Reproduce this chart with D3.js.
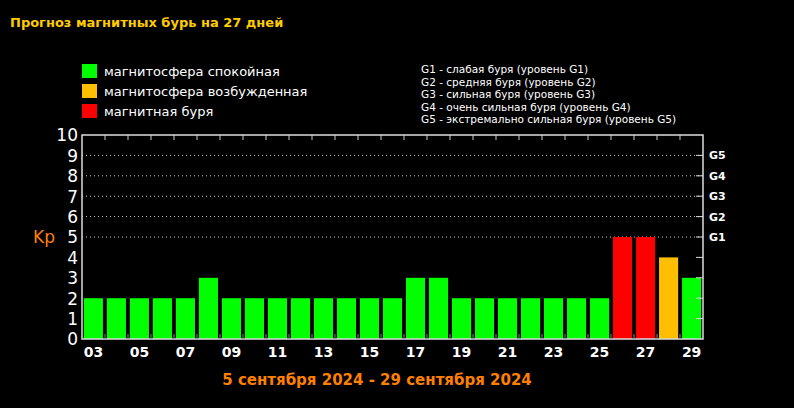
<!DOCTYPE html><html><head><meta charset="utf-8"><script src="https://cdn.jsdelivr.net/npm/d3@7"></script>
<style>body{margin:0;background:#000}</style></head><body><svg id="c" width="794" height="408"></svg>
<script>
const days=["03","04","05","06","07","08","09","10","11","12","13","14","15","16","17","18","19","20","21","22","23","24","25","26","27","28","29"];
const kp=[2,2,2,2,2,3,2,2,2,2,2,2,2,2,3,3,2,2,2,2,2,2,2,5,5,4,3];
const levels=["G1","G2","G3","G4","G5"];
const legendItems=[["магнитосфера спокойная","#00ff00"],["магнитосфера возбужденная","#ffbf00"],["магнитная буря","#ff0000"]];
const gNotes=["G1 - слабая буря (уровень G1)","G2 - средняя буря (уровень G2)","G3 - сильная буря (уровень G3)","G4 - очень сильная буря (уровень G4)","G5 - экстремально сильная буря (уровень G5)"];
const svg=d3.select("#c");
svg.append("text").attr("x",10).attr("y",27).attr("fill","#ffcc00").attr("font-family","DejaVu Sans").attr("font-weight","bold").attr("font-size",13).text("Прогноз магнитных бурь на 27 дней");
legendItems.forEach((d,i)=>{svg.append("rect").attr("x",82).attr("y",64+i*20).attr("width",15).attr("height",14).attr("fill",d[1]);
svg.append("text").attr("x",104).attr("y",76+i*20).attr("fill","#fff").attr("font-family","DejaVu Sans").attr("font-size",13).text(d[0]);});
gNotes.forEach((t,i)=>svg.append("text").attr("x",421).attr("y",73+i*12.5).attr("fill","#fff").attr("font-family","DejaVu Sans").attr("font-size",10.5).text(t));
const L=82,R=703,T=135,B=339;
const x=d3.scaleBand().domain(days).range([L,R]).paddingInner(0.17).paddingOuter(0.08);
const y=d3.scaleLinear().domain([0,10]).range([B,T]);
const col=v=>v>=5?"#ff0000":v>=4?"#ffbf00":"#00ff00";
d3.range(5,10).forEach(v=>svg.append("line").attr("x1",L).attr("x2",R).attr("y1",y(v)).attr("y2",y(v)).attr("stroke","#ccc").attr("stroke-dasharray","1,3"));
svg.selectAll(".b").data(kp).enter().append("rect").attr("x",(d,i)=>x(days[i])).attr("width",x.bandwidth()).attr("y",d=>y(d)).attr("height",d=>B-y(d)).attr("fill",col);
const step=(R-L)/27;
svg.append("rect").attr("x",L).attr("y",T).attr("width",R-L).attr("height",B-T).attr("fill","none").attr("stroke","#ddd").attr("stroke-width",1.5);
d3.range(1,27).forEach(i=>{svg.append("line").attr("x1",L+i*step).attr("x2",L+i*step).attr("y1",T).attr("y2",T+5).attr("stroke","#ccc");
svg.append("line").attr("x1",L+i*step).attr("x2",L+i*step).attr("y1",B).attr("y2",B-5).attr("stroke","#888");});
const ya=svg.append("g").attr("transform",`translate(${L},0)`).call(d3.axisLeft(y).ticks(10).tickSize(0).tickPadding(4));
ya.select(".domain").remove();
ya.selectAll("text").attr("fill","#fff").attr("font-family","DejaVu Sans").attr("font-size",17).attr("dy","0.35em");
d3.range(1,10).forEach(v=>svg.append("line").attr("x1",R-7).attr("x2",R).attr("y1",y(v)).attr("y2",y(v)).attr("stroke","#ddd"));
levels.forEach((g,i)=>svg.append("text").attr("x",709).attr("y",y(5+i)+4).attr("fill","#fff").attr("font-family","DejaVu Sans").attr("font-weight","bold").attr("font-size",11).text(g));
svg.append("text").attr("x",33).attr("y",243).attr("fill","#ff8000").attr("font-family","DejaVu Sans").attr("font-size",17).text("Kp");
const xa=svg.append("g").attr("transform",`translate(0,${B})`).call(d3.axisBottom(x).tickValues(days.filter((d,i)=>i%2==0)).tickSize(0).tickPadding(8));
xa.select(".domain").remove();
xa.selectAll("text").attr("fill","#fff").attr("font-family","DejaVu Sans").attr("font-weight","bold").attr("font-size",14);
svg.append("text").attr("x",377).attr("y",385).attr("text-anchor","middle").attr("fill","#ff8000").attr("font-family","DejaVu Sans").attr("font-weight","bold").attr("font-size",15).text("5 сентября 2024 - 29 сентября 2024");
</script></body></html>
